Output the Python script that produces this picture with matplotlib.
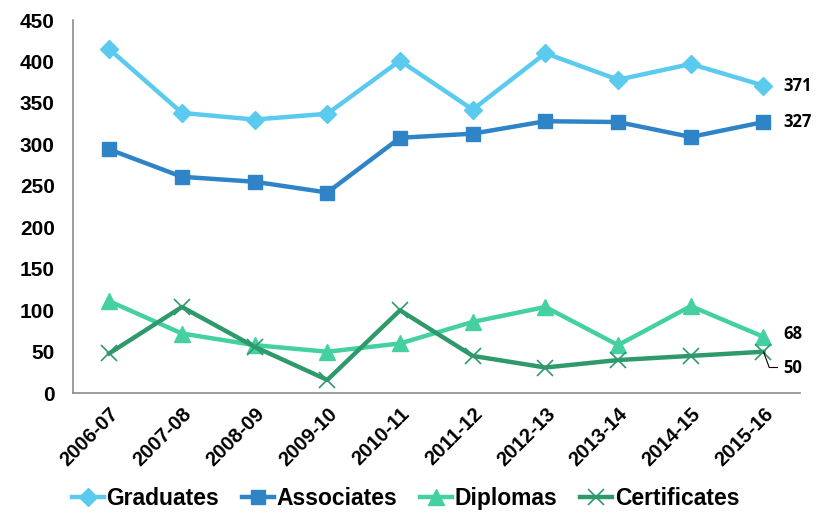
import matplotlib.pyplot as plt

plt.rcParams["font.family"] = ["Liberation Sans", "DejaVu Sans"]

years = ["2006-07", "2007-08", "2008-09", "2009-10", "2010-11",
         "2011-12", "2012-13", "2013-14", "2014-15", "2015-16"]
graduates = [415, 338, 330, 337, 401, 342, 410, 378, 397, 371]
associates = [294, 261, 255, 242, 308, 313, 328, 327, 309, 327]
diplomas = [111, 72, 58, 50, 60, 86, 104, 58, 105, 68]
certificates = [48, 104, 56, 16, 100, 45, 31, 40, 45, 50]

fig = plt.figure(figsize=(8.28, 5.14), dpi=100)
ax = fig.add_axes([0.088, 0.235, 0.878, 0.726])

x = list(range(len(years)))
ax.plot(x, graduates, color="#5BCAEF", lw=3.2, marker="D", ms=9, label="Graduates")
ax.plot(x, associates, color="#2E84C6", lw=3.2, marker="s", ms=10, label="Associates")
ax.plot(x, diplomas, color="#45D0A1", lw=3.2, marker="^", ms=11, label="Diplomas")
ax.plot(x, certificates, color="#2E9A6C", lw=3.2, marker="x", ms=12, mew=1.2,
        label="Certificates")

# end-of-series values
lab = dict(fontsize=12, fontweight="bold", family="Open Sans", va="center")
ax.text(9.27, graduates[-1], str(graduates[-1]), **lab)
ax.text(9.27, associates[-1], str(associates[-1]), **lab)
ax.text(9.27, diplomas[-1] + 3, str(diplomas[-1]), **lab)
ax.annotate(str(certificates[-1]), xy=(9, certificates[-1]), xytext=(9.27, 31),
            va="center", fontsize=12, fontweight="bold", family="Open Sans",
            arrowprops=dict(arrowstyle="-", lw=0.8, color="black",
                            connectionstyle="angle,angleA=0,angleB=110,rad=0",
                            shrinkA=2, shrinkB=0))

ax.set_xlim(-0.5, 9.5)
ax.set_ylim(0, 450)
ax.set_yticks(range(0, 451, 50))
ax.set_xticks(x)
ax.set_xticklabels(years, rotation=45, ha="right", rotation_mode="anchor")
ax.tick_params(axis="y", length=0, labelsize=15, pad=13)
ax.tick_params(axis="x", length=0, labelsize=14.5, pad=8)
for t in ax.get_xticklabels() + ax.get_yticklabels():
    t.set_fontweight("bold")

for s in ["top", "right"]:
    ax.spines[s].set_visible(False)
for s in ["left", "bottom"]:
    ax.spines[s].set_color("#8C8C8C")
    ax.spines[s].set_linewidth(1.2)

fig.legend(*ax.get_legend_handles_labels(), loc="center",
           bbox_to_anchor=(0.49, 0.03), ncol=4, frameon=False,
           handlelength=1.4, handletextpad=0.1, columnspacing=1.0,
           prop={"family": "Liberation Sans", "weight": "bold", "size": 16.5})

fig.savefig("out.png", dpi=100)
